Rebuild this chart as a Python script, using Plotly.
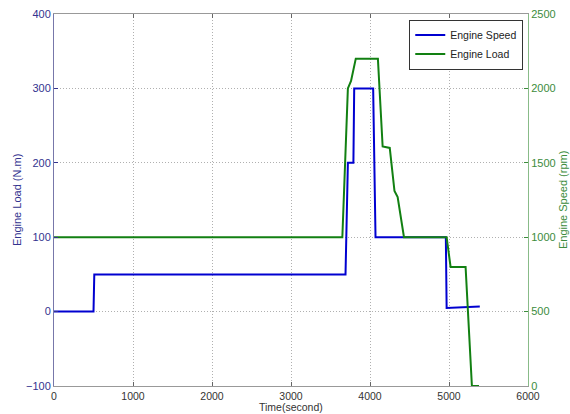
import plotly.graph_objects as go

# Engine Speed series (plotted on left axis, as in the reference)
speed_time = [0, 500, 510, 3690, 3720, 3730, 3790, 3800, 4040, 4070, 4960, 4970, 5390]
speed_vals = [0, 0, 50, 50, 200, 200, 200, 300, 300, 100, 100, 5, 7]

# Engine Load series (plotted on right axis)
load_time = [0, 3650, 3720, 3760, 3820, 4100, 4160, 4250, 4310, 4350, 4430, 4970, 5020, 5210, 5290, 5380]
load_vals = [1000, 1000, 2000, 2050, 2200, 2200, 1610, 1600, 1310, 1270, 1000, 1000, 800, 800, 0, 0]

left_ticks = [-100, 0, 100, 200, 300, 400]
right_ticks = [0, 500, 1000, 1500, 2000, 2500]
x_ticks = [0, 1000, 2000, 3000, 4000, 5000, 6000]

blue_axis = "#33338f"
green_axis = "#3c8c3c"
grid_dash = "1px,2px"

fig = go.Figure()
fig.add_trace(go.Scatter(x=speed_time, y=speed_vals, mode="lines", name="Engine Speed",
                         line=dict(color="#0000d0", width=2), yaxis="y"))
fig.add_trace(go.Scatter(x=load_time, y=load_vals, mode="lines", name="Engine Load",
                         line=dict(color="#128012", width=2), yaxis="y2"))

fig.update_layout(
    width=570, height=414,
    margin=dict(l=54, r=42, t=14, b=28, autoexpand=False),
    paper_bgcolor="white", plot_bgcolor="white",
    font=dict(family="Arial, Liberation Sans, sans-serif", size=11, color="#333333"),
    showlegend=True,
    legend=dict(x=0.99, y=0.985, xanchor="right", yanchor="top",
                bordercolor="#333333", borderwidth=1, bgcolor="white",
                font=dict(size=10.5, color="#222222"), tracegroupgap=0,
                itemwidth=30),
    xaxis=dict(range=[0, 6000], tickvals=x_ticks, ticks="inside", ticklen=4,
               tickcolor="#666666", showline=True, linecolor="#999999", mirror="ticks",
               showgrid=True, gridcolor="#b0b0b0", griddash=grid_dash, gridwidth=1,
               zeroline=False, tickfont=dict(color="#333333", size=10.5), automargin=False),
    yaxis=dict(range=[-100, 400], tickvals=left_ticks, ticks="inside", ticklen=4,
               tickcolor=blue_axis, showline=True, linecolor="#7777aa",
               showgrid=True, gridcolor="#b0b0b0", griddash=grid_dash, gridwidth=1,
               zeroline=False, tickfont=dict(color=blue_axis), automargin=False),
    yaxis2=dict(range=[0, 2500], tickvals=right_ticks, overlaying="y", side="right",
                ticks="inside", ticklen=4, tickcolor=green_axis, showline=True,
                linecolor="#88bb88", showgrid=False, zeroline=False,
                tickfont=dict(color=green_axis), automargin=False),
    annotations=[
        dict(text="Time(second)", xref="paper", yref="paper",
             x=0.5, y=-0.057, xanchor="center", yanchor="middle", showarrow=False,
             font=dict(size=10.5, color="#333333")),
        dict(text="Engine Load (N.m)", textangle=-90, xref="paper", yref="paper",
             x=-0.078, y=0.5, xanchor="center", yanchor="middle", showarrow=False,
             font=dict(size=11, color=blue_axis)),
        dict(text="Engine Speed (rpm)", textangle=-90, xref="paper", yref="paper",
             x=1.074, y=0.5, xanchor="center", yanchor="middle", showarrow=False,
             font=dict(size=11, color=green_axis)),
    ],
)

fig.write_html("out.html", config={"displayModeBar": False},
               post_script="document.body.style.margin='0';document.body.style.overflow='hidden';")
